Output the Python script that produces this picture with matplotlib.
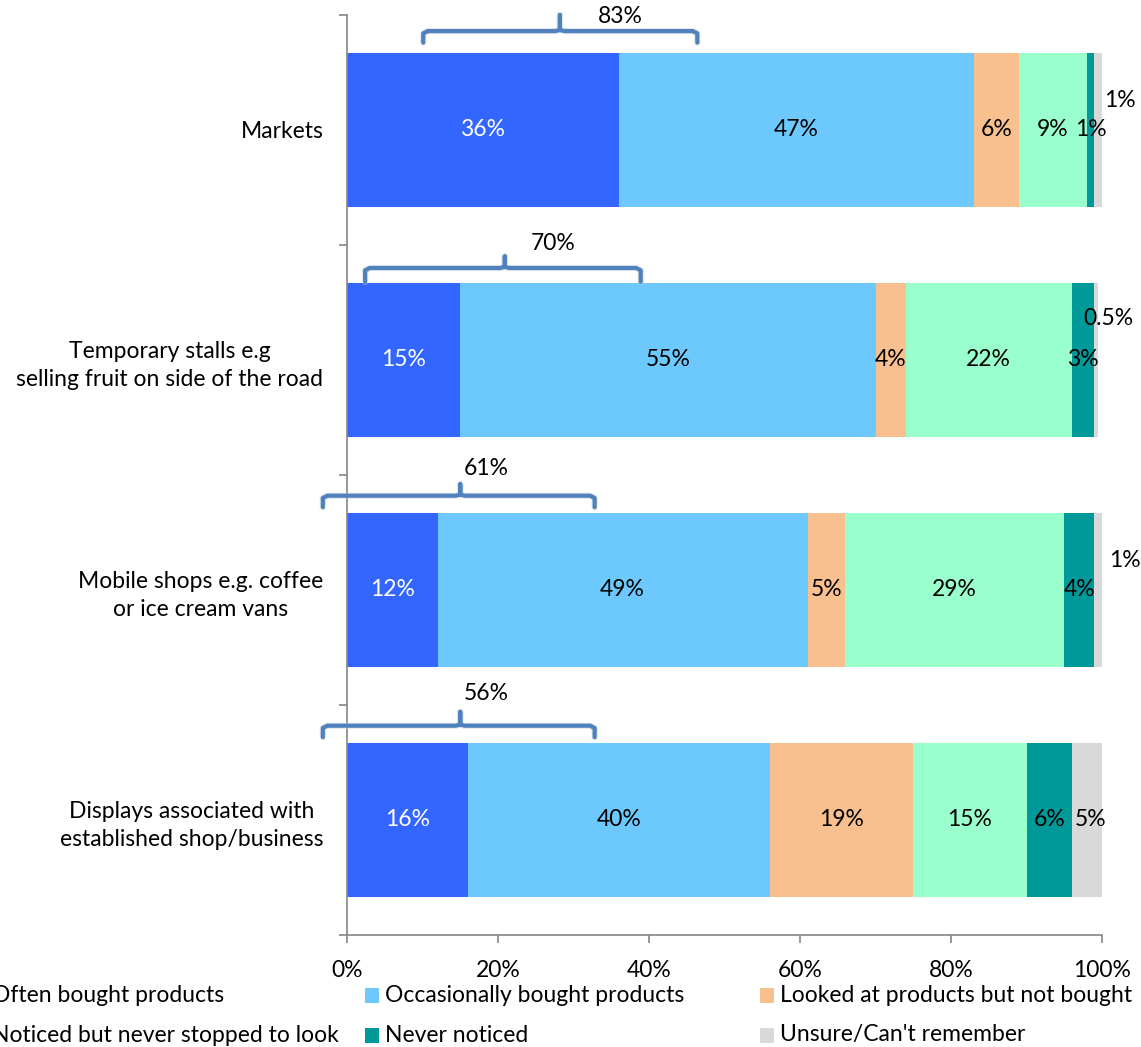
import matplotlib
matplotlib.use("Agg")
import matplotlib.pyplot as plt
from matplotlib.patches import Rectangle
import numpy as np

plt.rcParams['font.family'] = ['Lato', 'DejaVu Sans']

categories = [
    "Markets",
    "Temporary stalls e.g\nselling fruit on side of the road",
    "Mobile shops e.g. coffee\nor ice cream vans",
    "Displays associated with\nestablished shop/business",
]
series_names = [
    "Often bought products",
    "Occasionally bought products",
    "Looked at products but not bought",
    "Noticed but never stopped to look",
    "Never noticed",
    "Unsure/Can't remember",
]
often = [36, 15, 12, 16]
occasionally = [47, 55, 49, 40]
looked = [6, 4, 5, 19]
noticed = [9, 22, 29, 15]
never = [1, 3, 4, 6]
unsure = [1, 0.5, 1, 5]
x_ticks = [0, 20, 40, 60, 80, 100]

series = [often, occasionally, looked, noticed, never, unsure]
colors = ["#3366FF", "#6DC9FD", "#F9C08F", "#99FFCC", "#009999", "#D9D9D9"]
text_colors = ["white", "black", "black", "black", "black", "black"]

W, H = 1141, 1047
fig = plt.figure(figsize=(W / 100, H / 100), dpi=100)
ax = fig.add_axes([347 / W, 1 - 935 / H, (1102 - 347) / W, (935 - 15) / H])

y = np.arange(len(categories))
bar_h = 0.67
fs = 16.5

left = np.zeros(len(categories))
for vals, col in zip(series, colors):
    ax.barh(y, vals, left=left, height=bar_h, color=col, edgecolor='none', zorder=2)
    left += np.array(vals, dtype=float)


def fmt(v):
    return f"{v:g}%"


# unsure labels that sit outside the bar (row -> (x, dy))
outside = {0: (102.4, -0.13), 1: (100.9, -0.18), 2: (103.0, -0.13)}
left = np.zeros(len(categories))
for si, vals in enumerate(series):
    for ci, v in enumerate(vals):
        cx = left[ci] + v / 2
        cy = y[ci]
        if si == 5 and ci in outside:
            cx, dy = outside[ci]
            cy = y[ci] + dy
        ax.text(cx, cy, fmt(v), ha='center', va='center', fontsize=fs,
                color=text_colors[si], zorder=4, clip_on=False)
    left += np.array(vals, dtype=float)

# braces over the bought share (x0, x1, xm, line_y, tip_y, hook_y, label_x, label_y)
braces = [
    (10.1, 46.4, 28.2, -0.43, -0.50, -0.38, 36.2, -0.495),
    (2.4, 38.9, 20.9, -0.40, -0.45, -0.34, 27.3, -0.505),
    (-3.2, 32.8, 15.0, -0.41, -0.46, -0.36, 18.5, -0.527),
    (-3.2, 32.8, 15.0, -0.41, -0.47, -0.36, 18.5, -0.548),
]
brace_col = "#4F81BD"
for ci, (x0, x1, xm, ly, ty, hy, lx, lyb) in enumerate(braces):
    r = 0.6
    xs = [x0, x0, x0 + r, xm - r, xm, xm, xm, xm + r, x1 - r, x1, x1]
    ys = [y[ci] + hy, y[ci] + ly + 0.01, y[ci] + ly, y[ci] + ly, y[ci] + ly - 0.005,
          y[ci] + ty, y[ci] + ly - 0.005, y[ci] + ly, y[ci] + ly, y[ci] + ly + 0.01, y[ci] + hy]
    ax.plot(xs, ys, color="#C8CED8", lw=4.5, alpha=0.5, solid_capstyle='round',
            solid_joinstyle='round', clip_on=False, zorder=4)
    ax.plot(xs, ys, color=brace_col, lw=3, solid_capstyle='round',
            solid_joinstyle='round', clip_on=False, zorder=5)
    total = often[ci] + occasionally[ci]
    ax.text(lx, y[ci] + lyb, f"{total}%", ha='center', va='center', fontsize=fs,
            color='black', zorder=6, clip_on=False)

ax.set_xlim(0, 100)
ax.set_ylim(len(categories) - 0.5, -0.5)
ax.set_xticks(x_ticks)
ax.set_xticklabels([f"{t}%" for t in x_ticks], fontsize=fs)
ax.set_yticks(y)
ax.set_yticklabels(categories, fontsize=fs, multialignment='center', linespacing=1.4)
ax.set_yticks(np.arange(-0.5, len(categories) + 0.5, 1), minor=True)
ax.tick_params(axis='y', which='major', length=0, pad=17)
ax.tick_params(axis='y', which='minor', length=6, color='#868686', width=1.2)
ax.tick_params(axis='x', length=6, color='#868686', width=1.2, pad=12)
for s in ['top', 'right']:
    ax.spines[s].set_visible(False)
for s in ['left', 'bottom']:
    ax.spines[s].set_color('#868686')
    ax.spines[s].set_linewidth(1.2)

# legend laid out in three columns and two rows
col_x = [-8, 385, 780]
row_y = [995, 1035]
for i, (name, col) in enumerate(zip(series_names, colors)):
    tx = col_x[i % 3]
    ty = row_y[i // 3]
    fig.patches.append(Rectangle(((tx - 20) / W, 1 - (ty + 8) / H), 14 / W, 15 / H,
                                 transform=fig.transFigure, facecolor=col,
                                 edgecolor='none'))
    fig.text(tx / W, 1 - ty / H, name, ha='left', va='center', fontsize=fs)

fig.savefig("out.png", dpi=100)
